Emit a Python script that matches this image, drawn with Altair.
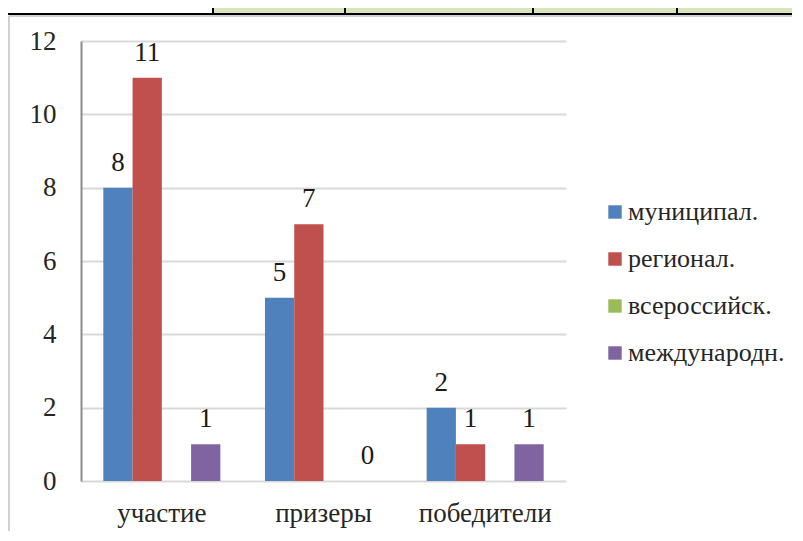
import altair as alt
import pandas as pd

categories = ["участие", "призеры", "победители"]
series = ["муниципал.", "регионал.", "всероссийск.", "международн."]
colors = ["#4F81BD", "#C0504D", "#9BBB59", "#8064A2"]
values = {
    "муниципал.": [8, 5, 2],
    "регионал.": [11, 7, 1],
    "всероссийск.": [None, None, None],
    "международн.": [1, 0, 1],
}
y_ticks = [0, 2, 4, 6, 8, 10, 12]

rows = []
for s in series:
    for c, v in zip(categories, values[s]):
        rows.append({"cat": c, "series": s, "value": v})
df = pd.DataFrame(rows)

FONT = "Liberation Serif"
TXT = "#262626"

x_enc = alt.X("cat:N", sort=categories, title=None,
              scale=alt.Scale(paddingInner=0.276, paddingOuter=0.138),
              axis=alt.Axis(labelAngle=0, labelFont=FONT, labelFontSize=27,
                            labelColor=TXT, labelPadding=19, ticks=False,
                            domain=False, grid=False))
xoff = alt.XOffset("series:N", scale=alt.Scale(domain=series, paddingInner=0, paddingOuter=0))
y_enc = alt.Y("value:Q", title=None,
              scale=alt.Scale(domain=[0, 12], nice=False),
              axis=alt.Axis(values=y_ticks, labelFont=FONT, labelFontSize=27,
                            labelColor=TXT, labelPadding=25, ticks=False,
                            domain=True, domainColor="#8c8c8c", domainWidth=2,
                            gridColor="#d9d9d9", gridWidth=2))

base = alt.Chart(df).encode(x=x_enc, xOffset=xoff, y=y_enc)

bars = base.mark_bar().encode(
    color=alt.Color("series:N", scale=alt.Scale(domain=series, range=colors),
                    title=None,
                    legend=alt.Legend(orient="none", legendX=521, legendY=158,
                                      symbolType="square", symbolSize=180,
                                      symbolStrokeWidth=0,
                                      labelFont=FONT, labelFontSize=26,
                                      labelColor=TXT, rowPadding=21,
                                      labelLimit=400,
                                      labelOffset=0, padding=0))
)

labels = base.mark_text(font=FONT, fontSize=27, color="#1a1a1a",
                        baseline="alphabetic", dy=-17).encode(
    text=alt.Text("value:Q", format="d")
)

# decorative page elements around the chart (frame and table edge above it)
frame_top = alt.Chart(df).mark_rule(color="#d0d0d0", strokeWidth=1.5).encode(
    x=alt.value(-72), x2=alt.value(730), y=alt.value(-25))
frame_left = alt.Chart(df).mark_rule(color="#d0d0d0", strokeWidth=1.5).encode(
    x=alt.value(-72), y=alt.value(-25), y2=alt.value(510))
table_fill = alt.Chart(df).mark_rect(color="#D8E4BC").encode(
    x=alt.value(132), x2=alt.value(730), y=alt.value(-40), y2=alt.value(-28))
table_line = alt.Chart(df).mark_rule(color="#000000", strokeWidth=2).encode(
    x=alt.value(-80), x2=alt.value(730), y=alt.value(-27))
sep_a = alt.Chart(df).mark_rule(color="#000000", strokeWidth=1.5).encode(
    x=alt.value(132), y=alt.value(-40), y2=alt.value(-27))
sep_b = alt.Chart(df).mark_rule(color="#000000", strokeWidth=1.5).encode(
    x=alt.value(264), y=alt.value(-40), y2=alt.value(-27))
sep_c = alt.Chart(df).mark_rule(color="#000000", strokeWidth=1.5).encode(
    x=alt.value(452), y=alt.value(-40), y2=alt.value(-27))
sep_d = alt.Chart(df).mark_rule(color="#000000", strokeWidth=1.5).encode(
    x=alt.value(596), y=alt.value(-40), y2=alt.value(-27))

chart = alt.layer(table_fill, table_line, sep_a, sep_b, sep_c, sep_d,
                  frame_top, frame_left, bars, labels).properties(
    width=485, height=440,
    autosize=alt.AutoSizeParams(type="none"),
    padding={"left": 73, "top": 33, "right": 226, "bottom": 50},
).configure_view(stroke=None, clip=False)

chart.save("out.html", embed_options={"renderer": "svg", "actions": False})
